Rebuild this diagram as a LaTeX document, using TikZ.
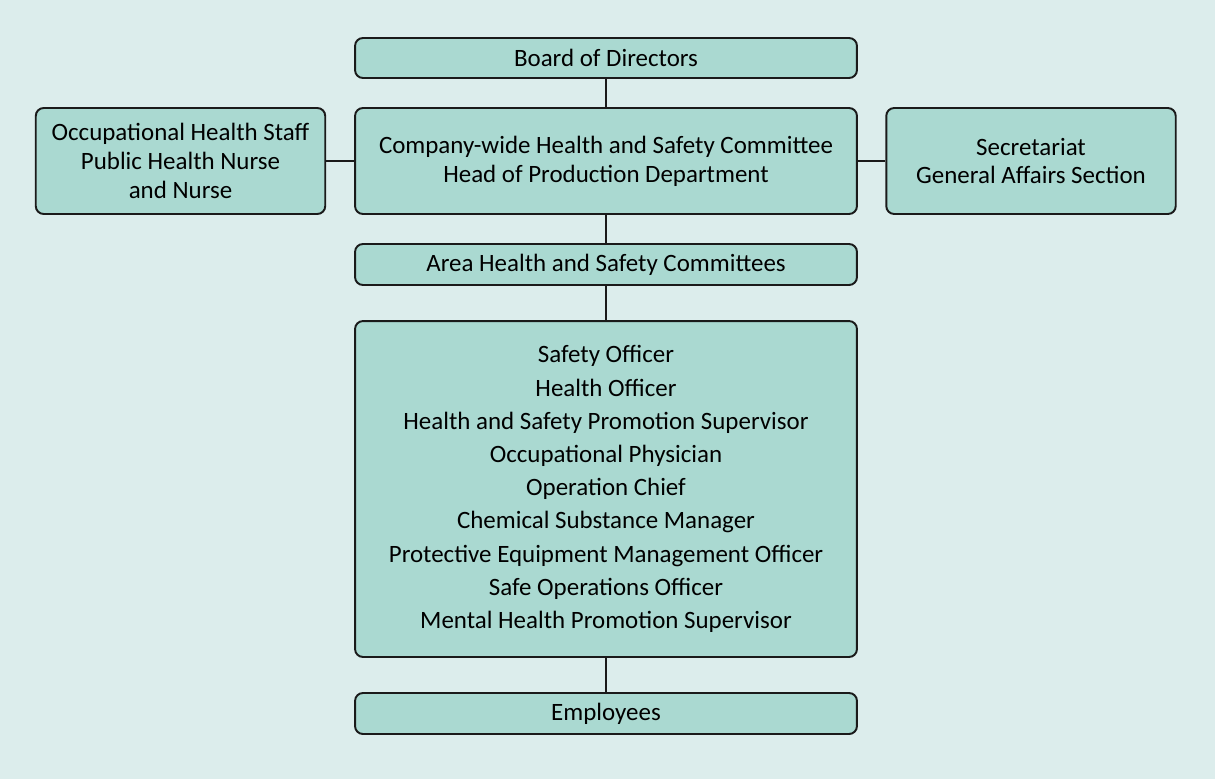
\documentclass[tikz,border=0pt]{standalone}
\usepackage{fontspec}
\setmainfont{Carlito}
\definecolor{bgteal}{HTML}{DCEDEC}
\definecolor{boxteal}{HTML}{AAD9D1}
\definecolor{edgegray}{HTML}{1A1A1A}
\begin{document}
\begin{tikzpicture}[x=0.02cm, y=-0.02cm,
    orgbox/.style={draw=edgegray, line width=1.1pt, fill=boxteal, rounded corners=4.5pt,
                   align=center, inner sep=0pt, font=\fontsize{14.2}{16.4}\selectfont},
    wide/.style={orgbox, minimum width=10.04cm},
    side/.style={orgbox, minimum width=5.79cm, minimum height=2.12cm},
    link/.style={draw=edgegray, line width=1.1pt}]
     % background panel
     \fill[bgteal] (0,0) rectangle (1215,779);
     \useasboundingbox (0,0) rectangle (1215,779);
     %%%%%%%%%%%%%%%%%%%%%%%%%%%%%%%%%%%%%%%%%%
     %%% Top of the organisation
     %%%%%%%%%%%%%%%%%%%%%%%%%%%%%%%%%%%%%%%%%%
     \node[wide, minimum height=0.8cm] (board) at (606,58) {Board of Directors};
     \node[wide, minimum height=2.12cm] (committee) at (606,161)
         {Company-wide Health and Safety Committee\\Head of Production Department};
     % staff on either side of the committee
     \node[side] (healthstaff) at (180.5,161)
         {Occupational Health Staff\\Public Health Nurse\\and Nurse};
     \node[side] (secretariat) at (1031,161)
         {Secretariat\\General Affairs Section};
     %%%%%%%%%%%%%%%%%%%%%%%%%%%%%%%%%%%%%%%%%%
     %%% Areas and officers
     %%%%%%%%%%%%%%%%%%%%%%%%%%%%%%%%%%%%%%%%%%
     \node[wide, minimum height=0.82cm] (area) at (606,264.5) {Area Health and Safety Committees};
     \node[wide, minimum height=6.72cm, font=\fontsize{14.2}{18.9}\selectfont] (officers) at (606,489)
         {Safety Officer\\Health Officer\\Health and Safety Promotion Supervisor\\
          Occupational Physician\\Operation Chief\\Chemical Substance Manager\\
          Protective Equipment Management Officer\\Safe Operations Officer\\
          Mental Health Promotion Supervisor};
     \node[wide, minimum height=0.82cm] (employees) at (606,713.5) {Employees};
     % connecting lines
     \draw[link] (board) -- (committee);
     \draw[link] (healthstaff) -- (committee);
     \draw[link] (committee) -- (secretariat);
     \draw[link] (committee) -- (area);
     \draw[link] (area) -- (officers);
     \draw[link] (officers) -- (employees);
\end{tikzpicture}
\end{document}
